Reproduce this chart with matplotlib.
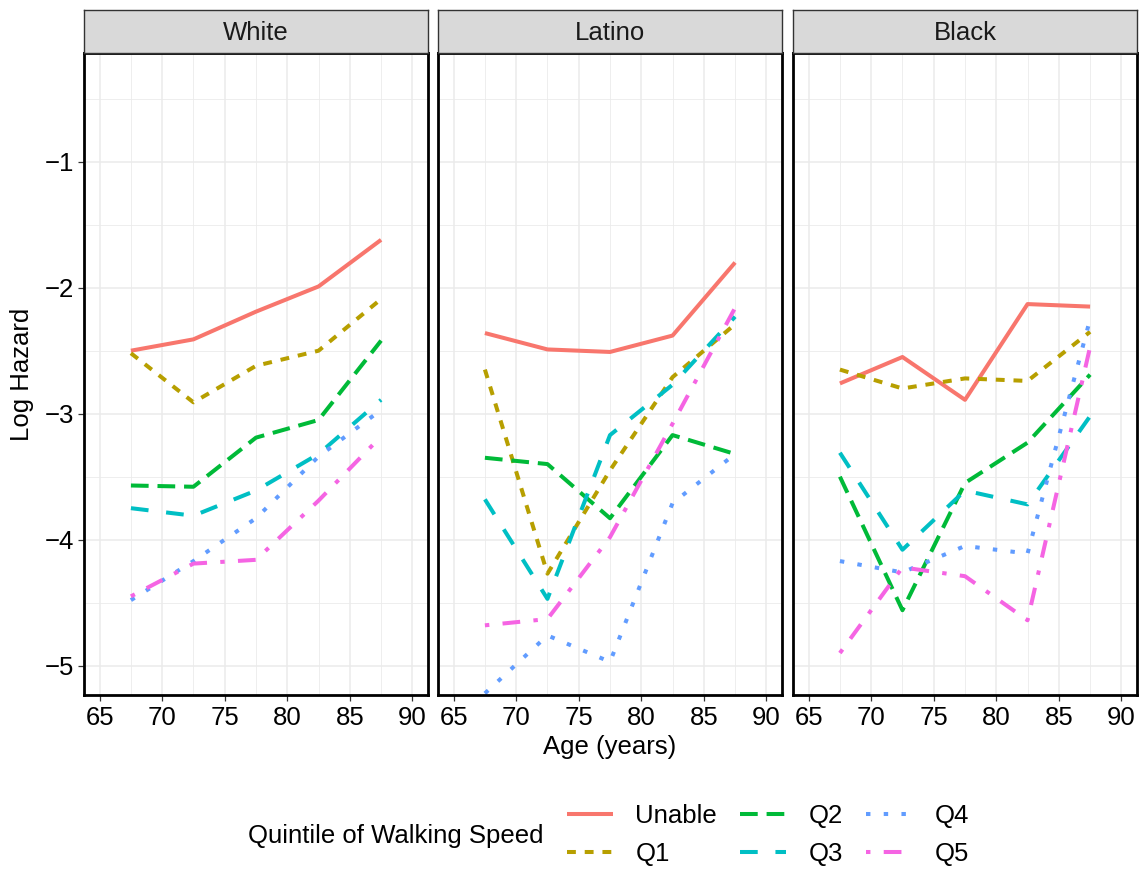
import matplotlib
matplotlib.use("Agg")
from matplotlib import pyplot as plt
from matplotlib.lines import Line2D
import numpy as np

plt.rcParams['font.family'] = ['Liberation Sans', 'DejaVu Sans']

# data
ages = [67.5, 72.5, 77.5, 82.5, 87.5]
groups = ["White", "Latino", "Black"]
quintiles = ["Unable", "Q1", "Q2", "Q3", "Q4", "Q5"]

white = {
    "Unable": [-2.50, -2.41, -2.19, -1.99, -1.62],
    "Q1": [-2.52, -2.91, -2.62, -2.50, -2.09],
    "Q2": [-3.57, -3.58, -3.19, -3.05, -2.42],
    "Q3": [-3.75, -3.81, -3.61, -3.32, -2.89],
    "Q4": [-4.48, -4.17, -3.83, -3.34, -2.97],
    "Q5": [-4.45, -4.19, -4.16, -3.69, -3.18],
}
latino = {
    "Unable": [-2.36, -2.49, -2.51, -2.38, -1.80],
    "Q1": [-2.65, -4.27, -3.45, -2.71, -2.29],
    "Q2": [-3.35, -3.40, -3.83, -3.17, -3.32],
    "Q3": [-3.68, -4.47, -3.17, -2.77, -2.23],
    "Q4": [-5.22, -4.76, -4.97, -3.71, -3.32],
    "Q5": [-4.68, -4.63, -3.98, -3.08, -2.16],
}
black = {
    "Unable": [-2.76, -2.55, -2.89, -2.13, -2.15],
    "Q1": [-2.65, -2.80, -2.72, -2.74, -2.35],
    "Q2": [-3.50, -4.56, -3.55, -3.23, -2.69],
    "Q3": [-3.31, -4.08, -3.61, -3.72, -3.02],
    "Q4": [-4.17, -4.26, -4.05, -4.11, -2.25],
    "Q5": [-4.90, -4.22, -4.29, -4.64, -2.47],
}
panel_data = [white, latino, black]

colors = ["#F8766D", "#B79F00", "#00BA38", "#00BFC4", "#619CFF", "#F564E3"]
dashes = [None, (2.2, 2.2), (4.4, 2.2), (4.4, 4.4), (1.1, 3.3), (1.1, 3.3, 4.4, 3.3)]

W, H = 1143, 869
fig = plt.figure(figsize=(W / 100, H / 100), dpi=100)

lefts = [84, 438, 793]
pw = 344
ptop, pbot = 53, 695
strip_top = 10
fs = 18.5

for i, g in enumerate(groups):
    ax = fig.add_axes([lefts[i] / W, 1 - pbot / H, pw / W, (pbot - ptop) / H])
    for q, c, d in zip(quintiles, colors, dashes):
        ln, = ax.plot(ages, panel_data[i][q], color=c, lw=2.9,
                      solid_capstyle='butt', dash_capstyle='butt')
        if d is not None:
            ln.set_dashes(d)
    ax.set_xlim(63.75, 91.25)
    ax.set_ylim(-5.233, -0.137)
    ax.set_xticks([65, 70, 75, 80, 85, 90])
    ax.set_xticks([67.5, 72.5, 77.5, 82.5, 87.5], minor=True)
    ax.set_yticks([-5, -4, -3, -2, -1])
    ax.set_yticks([-4.5, -3.5, -2.5, -1.5, -0.5], minor=True)
    ax.grid(True, which='major', color='#EBEBEB', lw=1.1)
    ax.grid(True, which='minor', color='#EBEBEB', lw=0.6)
    ax.set_axisbelow(True)
    ax.tick_params(which='minor', length=0)
    ax.tick_params(which='major', length=4, width=0.9, color='#333333',
                   labelsize=fs, labelcolor='black', pad=3)
    ax.tick_params(axis='x', pad=4)
    if i > 0:
        ax.tick_params(axis='y', left=False, labelleft=False)
    for s in ax.spines.values():
        s.set_linewidth(2)
        s.set_color('black')
    # facet strip
    sax = fig.add_axes([lefts[i] / W, 1 - ptop / H, pw / W, (ptop - strip_top) / H])
    sax.set_xticks([])
    sax.set_yticks([])
    sax.set_facecolor('#D9D9D9')
    for s in sax.spines.values():
        s.set_color('#333333')
        s.set_linewidth(1)
    sax.text(0.5, 0.47, g, ha='center', va='center', fontsize=fs, color='#1A1A1A',
             transform=sax.transAxes)

fig.text(610 / W, 1 - 747 / H, "Age (years)", ha='center', va='center', fontsize=fs)
fig.text(22 / W, 1 - 374 / H, "Log Hazard", ha='center', va='center', fontsize=fs,
         rotation=90)

# legend
fig.text(248 / W, 1 - 836 / H, "Quintile of Walking Speed", ha='left', va='center',
         fontsize=fs)
handles = []
for q, c, d in zip(quintiles, colors, dashes):
    h = Line2D([0], [0], color=c, lw=2.9, solid_capstyle='butt', dash_capstyle='butt')
    if d is not None:
        h.set_dashes(d)
    handles.append(h)
fig.legend(handles, quintiles, loc='center left', bbox_to_anchor=(567 / W, 1 - 835 / H),
           ncol=3, frameon=False, fontsize=fs, handlelength=1.8, handletextpad=0.86,
           columnspacing=0.9, labelspacing=0.53, borderaxespad=0, borderpad=0)

fig.savefig("out.png", dpi=100)
